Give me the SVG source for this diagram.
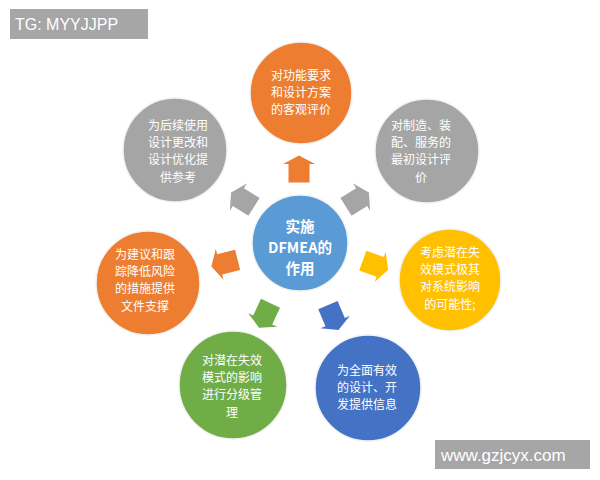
<svg xmlns="http://www.w3.org/2000/svg" width="600" height="480" viewBox="0 0 600 480">
<defs>
<style>
.c{stroke:#f2f2f2;stroke-width:1.5}
.t{font-family:"Noto Sans CJK SC","Liberation Sans",sans-serif;font-size:12px;fill:#fff;text-anchor:middle}
.ct{font-family:"Noto Sans CJK SC","Liberation Sans",sans-serif;font-size:14.5px;font-weight:bold;fill:#fff;text-anchor:middle}
.lbl{font-family:"Liberation Sans",sans-serif;fill:#fff}
</style>
<path id="arr" d="M0,-14 L16,-5.5 L10.5,-5.5 L10.5,13 L-10.5,13 L-10.5,-5.5 L-16,-5.5 Z"/>
</defs>
<rect width="600" height="480" fill="#fff"/>
<g id="labels">
<rect x="10" y="9" width="138" height="30" fill="#a6a6a6"/>
<text class="lbl" x="15" y="30" font-size="16">TG: MYYJJPP</text>
<rect x="435" y="440" width="155" height="29" fill="#a6a6a6"/>
<text class="lbl" x="441" y="461" font-size="17">www.gzjcyx.com</text>
</g>
<g id="connectors">
<use href="#arr" fill="#ed7d31" transform="translate(299,169.5)"/>
<use href="#arr" fill="#a5a5a5" transform="translate(243,200) rotate(-58)"/>
<use href="#arr" fill="#a5a5a5" transform="translate(357,200) rotate(58)"/>
<use href="#arr" fill="#ed7d31" transform="translate(225,263) rotate(-104)"/>
<use href="#arr" fill="#ffc000" transform="translate(375,265) rotate(110)"/>
<use href="#arr" fill="#70ad47" transform="translate(265,315) rotate(-155)"/>
<use href="#arr" fill="#4472c4" transform="translate(333,317) rotate(157)"/>
</g>
<g id="n-top">
<circle class="c" cx="301" cy="93" r="51" fill="#ed7d31"/>
<text class="t"><tspan x="301" y="79.6">对功能要求</tspan><tspan x="301" y="97">和设计方案</tspan><tspan x="301" y="114.4">的客观评价</tspan></text>
</g>
<g id="n-topleft">
<circle class="c" cx="175" cy="150" r="52" fill="#a5a5a5"/>
<text class="t"><tspan x="178" y="129.6">为后续使用</tspan><tspan x="178" y="147">设计更改和</tspan><tspan x="178" y="164.4">设计优化提</tspan><tspan x="178" y="181.8">供参考</tspan></text>
</g>
<g id="n-topright">
<circle class="c" cx="427" cy="151" r="52" fill="#a5a5a5"/>
<text class="t"><tspan x="421" y="129.6">对制造、装</tspan><tspan x="421" y="147">配、服务的</tspan><tspan x="421" y="164.4">最初设计评</tspan><tspan x="421" y="181.8">价</tspan></text>
</g>
<g id="n-center">
<circle class="c" cx="300" cy="243" r="48" fill="#5b9bd5"/>
<text class="ct"><tspan x="300" y="232">实施</tspan><tspan x="300" y="253">DFMEA的</tspan><tspan x="300" y="274">作用</tspan></text>
</g>
<g id="n-left">
<circle class="c" cx="148" cy="283" r="52" fill="#ed7d31"/>
<text class="t"><tspan x="145" y="258.6">为建议和跟</tspan><tspan x="145" y="276">踪降低风险</tspan><tspan x="145" y="293.4">的措施提供</tspan><tspan x="145" y="310.8">文件支撑</tspan></text>
</g>
<g id="n-right">
<circle class="c" cx="450" cy="280" r="51" fill="#ffc000"/>
<text class="t"><tspan x="450" y="256.6">考虑潜在失</tspan><tspan x="450" y="274">效模式极其</tspan><tspan x="450" y="291.4">对系统影响</tspan><tspan x="450" y="308.8">的可能性;</tspan></text>
</g>
<g id="n-bottomleft">
<circle class="c" cx="233" cy="385" r="54" fill="#70ad47"/>
<text class="t"><tspan x="232" y="364.6">对潜在失效</tspan><tspan x="232" y="382">模式的影响</tspan><tspan x="232" y="399.4">进行分级管</tspan><tspan x="232" y="416.8">理</tspan></text>
</g>
<g id="n-bottomright">
<circle class="c" cx="368" cy="388" r="53" fill="#4472c4"/>
<text class="t"><tspan x="367" y="374.6">为全面有效</tspan><tspan x="367" y="392">的设计、开</tspan><tspan x="367" y="409.4">发提供信息</tspan></text>
</g>
</svg>
